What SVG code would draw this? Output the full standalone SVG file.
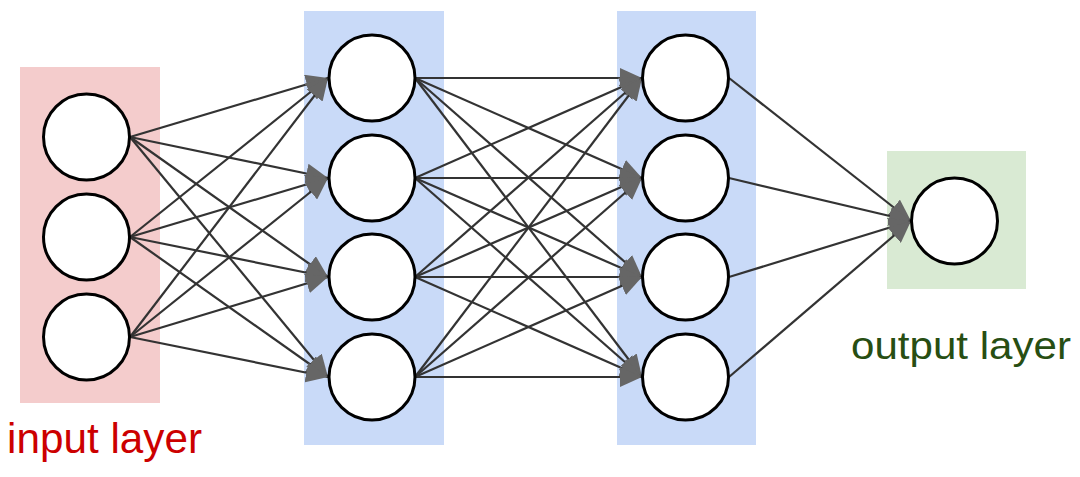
<svg xmlns="http://www.w3.org/2000/svg" width="1080" height="477" viewBox="0 0 1080 477">
<style>
.node{fill:#ffffff;stroke:#000000;stroke-width:3}
.edge{stroke:#333333;stroke-width:2.2;fill:none;marker-end:url(#arr)}
.lbl{font-family:"Liberation Sans",Arial,sans-serif}
</style>
<defs>
<marker id="arr" markerUnits="userSpaceOnUse" viewBox="0 0 22 20" markerWidth="22" markerHeight="20" refX="22" refY="10" orient="auto">
<path d="M0,0 L22,10 L0,20 z" fill="#666666"/>
</marker>
</defs>
<rect width="1080" height="477" fill="#ffffff"/>
<g id="layers">
<rect id="input-layer-box" x="20" y="67" width="140" height="336" fill="#f4cccc"/>
<rect id="hidden1-box" x="304" y="11" width="140" height="434" fill="#c9daf8"/>
<rect id="hidden2-box" x="617" y="11" width="139" height="434" fill="#c9daf8"/>
<rect id="output-layer-box" x="887" y="151" width="139" height="138" fill="#d9ead3"/>
</g>
<g id="connectors">
<path class="edge" d="M130,137 L328,78"/>
<path class="edge" d="M130,137 L328,178"/>
<path class="edge" d="M130,137 L328,277"/>
<path class="edge" d="M130,137 L328,377"/>
<path class="edge" d="M130,237 L328,78"/>
<path class="edge" d="M130,237 L328,178"/>
<path class="edge" d="M130,237 L328,277"/>
<path class="edge" d="M130,237 L328,377"/>
<path class="edge" d="M130,337 L328,78"/>
<path class="edge" d="M130,337 L328,178"/>
<path class="edge" d="M130,337 L328,277"/>
<path class="edge" d="M130,337 L328,377"/>
<path class="edge" d="M415,78 L642,78"/>
<path class="edge" d="M415,78 L642,178"/>
<path class="edge" d="M415,78 L642,277"/>
<path class="edge" d="M415,78 L642,377"/>
<path class="edge" d="M415,178 L642,78"/>
<path class="edge" d="M415,178 L642,178"/>
<path class="edge" d="M415,178 L642,277"/>
<path class="edge" d="M415,178 L642,377"/>
<path class="edge" d="M415,277 L642,78"/>
<path class="edge" d="M415,277 L642,178"/>
<path class="edge" d="M415,277 L642,277"/>
<path class="edge" d="M415,277 L642,377"/>
<path class="edge" d="M415,377 L642,78"/>
<path class="edge" d="M415,377 L642,178"/>
<path class="edge" d="M415,377 L642,277"/>
<path class="edge" d="M415,377 L642,377"/>
<path class="edge" d="M729,78 L911,221"/>
<path class="edge" d="M729,178 L911,221"/>
<path class="edge" d="M729,277 L911,221"/>
<path class="edge" d="M729,377 L911,221"/>
</g>
<g id="in1"><circle class="node" cx="86.5" cy="137" r="43"/></g>
<g id="in2"><circle class="node" cx="86.5" cy="237" r="43"/></g>
<g id="in3"><circle class="node" cx="86.5" cy="337" r="43"/></g>
<g id="h1a"><circle class="node" cx="372" cy="78" r="43"/></g>
<g id="h1b"><circle class="node" cx="372" cy="178" r="43"/></g>
<g id="h1c"><circle class="node" cx="372" cy="277" r="43"/></g>
<g id="h1d"><circle class="node" cx="372" cy="377" r="43"/></g>
<g id="h2a"><circle class="node" cx="685.5" cy="78" r="43"/></g>
<g id="h2b"><circle class="node" cx="685.5" cy="178" r="43"/></g>
<g id="h2c"><circle class="node" cx="685.5" cy="277" r="43"/></g>
<g id="h2d"><circle class="node" cx="685.5" cy="377" r="43"/></g>
<g id="out1"><circle class="node" cx="954.5" cy="221" r="43"/></g>
<g id="labels">
<text class="lbl" x="7" y="453" font-size="42" fill="#cc0000" textLength="195" lengthAdjust="spacingAndGlyphs">input layer</text>
<text class="lbl" x="851" y="359" font-size="39" fill="#274e13" textLength="220" lengthAdjust="spacingAndGlyphs">output layer</text>
</g>
</svg>
